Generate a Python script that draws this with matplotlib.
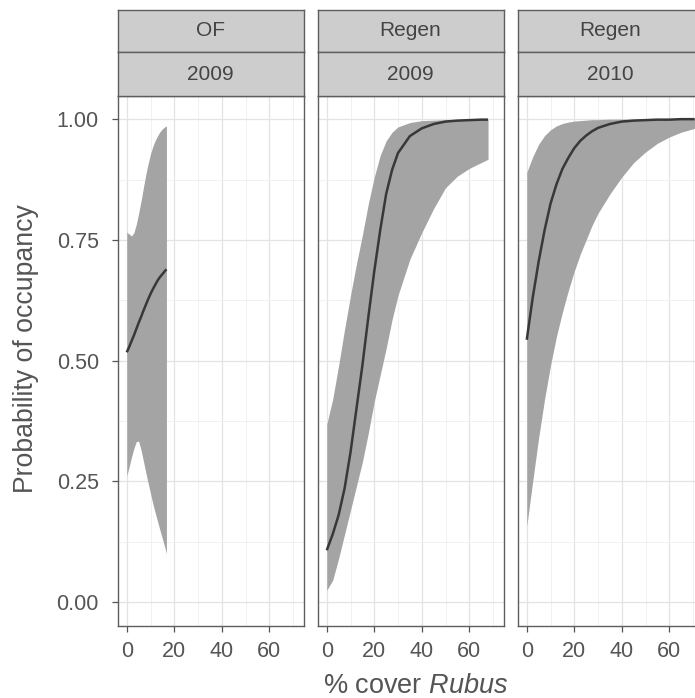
import matplotlib
matplotlib.use('Agg')
import matplotlib.pyplot as plt

plt.rcParams['font.family'] = ['Liberation Sans', 'DejaVu Sans']
plt.rcParams['mathtext.fontset'] = 'custom'
plt.rcParams['mathtext.rm'] = 'Liberation Sans'
plt.rcParams['mathtext.it'] = 'Liberation Sans:italic'

# ---------------- data ----------------
strip_top = ['OF', 'Regen', 'Regen']
strip_bottom = ['2009', '2009', '2010']

x_of09 = [0, 1, 2, 3, 4, 5, 6, 7, 8, 9, 10, 11, 12, 13, 14, 15, 16, 16.7]
fit_of09 = [0.517, 0.528, 0.540, 0.552, 0.565, 0.578, 0.590, 0.603, 0.615, 0.627,
            0.638, 0.648, 0.657, 0.666, 0.673, 0.679, 0.685, 0.689]
upr_of09 = [0.766, 0.762, 0.758, 0.765, 0.782, 0.805, 0.830, 0.858, 0.885, 0.908,
            0.928, 0.944, 0.956, 0.966, 0.974, 0.980, 0.984, 0.986]
lwr_of09 = [0.261, 0.280, 0.300, 0.318, 0.332, 0.333, 0.315, 0.292, 0.268, 0.246,
            0.224, 0.203, 0.184, 0.166, 0.148, 0.131, 0.113, 0.100]

x_rg09 = [0, 2.5, 5, 7.5, 10, 12.5, 15, 17.5, 20, 22.5, 25, 27.5, 30, 35, 40, 45,
          50, 55, 60, 65, 67.9]
fit_rg09 = [0.107, 0.140, 0.180, 0.235, 0.310, 0.400, 0.490, 0.590, 0.685, 0.770,
            0.845, 0.895, 0.930, 0.965, 0.981, 0.990, 0.995, 0.997, 0.998, 0.999, 0.999]
upr_rg09 = [0.368, 0.420, 0.490, 0.565, 0.635, 0.700, 0.760, 0.825, 0.880, 0.925,
            0.955, 0.973, 0.984, 0.993, 0.997, 0.998, 0.999, 0.999, 0.999, 0.999, 0.999]
lwr_rg09 = [0.024, 0.045, 0.090, 0.140, 0.190, 0.240, 0.290, 0.350, 0.415, 0.470,
            0.525, 0.585, 0.635, 0.710, 0.765, 0.815, 0.858, 0.882, 0.898, 0.910, 0.917]

x_rg10 = [0, 2.5, 5, 7.5, 10, 12.5, 15, 17.5, 20, 22.5, 25, 27.5, 30, 35, 40, 45,
          50, 55, 60, 65, 70.7]
fit_rg10 = [0.543, 0.630, 0.705, 0.770, 0.825, 0.865, 0.897, 0.920, 0.940, 0.955,
            0.966, 0.975, 0.982, 0.990, 0.995, 0.997, 0.998, 0.999, 0.999, 1.000, 1.000]
upr_rg10 = [0.890, 0.922, 0.948, 0.966, 0.978, 0.986, 0.991, 0.994, 0.996, 0.997,
            0.998, 0.999, 0.999, 1.000, 1.000, 1.000, 1.000, 1.000, 1.000, 1.000, 1.000]
lwr_rg10 = [0.157, 0.250, 0.340, 0.420, 0.490, 0.550, 0.600, 0.645, 0.685, 0.720,
            0.750, 0.780, 0.805, 0.845, 0.880, 0.910, 0.932, 0.950, 0.963, 0.973, 0.981]

panels = [
    (x_of09, fit_of09, upr_of09, lwr_of09),
    (x_rg09, fit_rg09, upr_rg09, lwr_rg09),
    (x_rg10, fit_rg10, upr_rg10, lwr_rg10),
]

x_ticks = [0, 20, 40, 60]
x_minor = [10, 30, 50, 70]
y_ticks = [0.0, 0.25, 0.5, 0.75, 1.0]
y_tick_labels = ['0.00', '0.25', '0.50', '0.75', '1.00']
y_minor = [0.125, 0.375, 0.625, 0.875]

# ---------------- layout ----------------
W, H = 695, 698
fig = plt.figure(figsize=(W / 100, H / 100), dpi=100)
fig.patch.set_facecolor('white')


def fx(px):
    return px / W


def fy(py):
    return 1 - py / H


panel_lefts = [117.5, 317.5, 517.5]
pw = 186
ptop, pbot = 96, 626
s1_top, s_mid = 10, 52

txt_col = '#555555'
border_col = '#5e5e5e'
strip_fill = '#cdcdcd'

for i, (xs, fit, upr, lwr) in enumerate(panels):
    L = panel_lefts[i]
    ax = fig.add_axes([fx(L), fy(pbot), pw / W, (pbot - ptop) / H])
    ax.set_facecolor('white')
    ax.fill_between(xs, lwr, upr, color='#a4a4a4', linewidth=0, zorder=2)
    ax.plot(xs, fit, color='#383838', lw=1.8, zorder=3, solid_capstyle='butt')
    ax.set_xlim(-3.9, 74.4)
    ax.set_ylim(-0.05, 1.048)
    ax.set_xticks(x_ticks)
    ax.set_xticks(x_minor, minor=True)
    ax.set_yticks(y_ticks)
    ax.set_yticks(y_minor, minor=True)
    ax.grid(True, which='major', color='#e3e3e3', lw=0.9, zorder=0)
    ax.grid(True, which='minor', color='#efefef', lw=0.6, zorder=0)
    ax.set_axisbelow(True)
    for sp in ax.spines.values():
        sp.set_color(border_col)
        sp.set_linewidth(1.0)
    ax.tick_params(which='minor', length=0)
    ax.tick_params(axis='x', which='major', length=4.5, width=0.9, color=txt_col,
                   labelsize=15.5, labelcolor=txt_col, pad=6)
    ax.set_xticklabels([str(v) for v in x_ticks])
    if i == 0:
        ax.set_yticklabels(y_tick_labels)
        ax.tick_params(axis='y', which='major', length=4.5, width=0.9, color=txt_col,
                       labelsize=15.5, labelcolor=txt_col, pad=9)
    else:
        ax.tick_params(axis='y', which='major', length=0, labelleft=False)

    # strips
    for (top, bot, label) in [(s1_top, s_mid, strip_top[i]), (s_mid, ptop, strip_bottom[i])]:
        sax = fig.add_axes([fx(L), fy(bot), pw / W, (bot - top) / H])
        sax.set_facecolor(strip_fill)
        sax.set_xticks([])
        sax.set_yticks([])
        for sp in sax.spines.values():
            sp.set_color(border_col)
            sp.set_linewidth(1.0)
        sax.text(0.5, 0.5, label, transform=sax.transAxes, ha='center', va='center',
                 fontsize=15, color='#444444')

fig.text(fx(26), fy(349), 'Probability of occupancy', rotation=90,
         ha='center', va='center', fontsize=19.2, color=txt_col)
fig.text(fx(416), fy(686), r'% cover $\mathit{Rubus}$',
         ha='center', va='center', fontsize=19.5, color=txt_col)

fig.savefig('out.png', dpi=100)
